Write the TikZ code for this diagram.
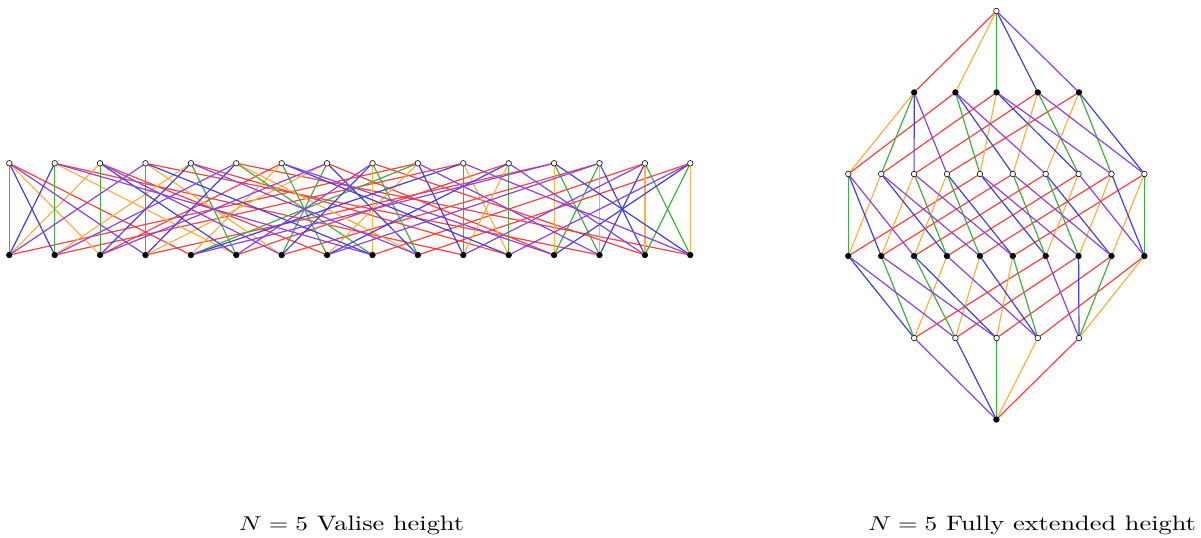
\documentclass[tikz,border=0pt]{standalone}
\usepackage{graphicx}
\pgfdeclarelayer{bg}
\pgfsetlayers{bg,main}
\definecolor{ered}{RGB}{255,64,64}
\definecolor{eorange}{RGB}{255,176,64}
\definecolor{egreen}{RGB}{64,176,64}
\definecolor{eblue}{RGB}{64,64,224}
\definecolor{epurple}{RGB}{144,64,224}
\tikzset{
  wnode/.style={circle,draw=black,fill=white,inner sep=0pt,minimum size=2.8pt,line width=0.3pt},
  bnode/.style={circle,draw=black,fill=black,inner sep=0pt,minimum size=2.8pt,line width=0.3pt},
  cR/.style={draw=ered,line width=0.6pt},
  cO/.style={draw=eorange,line width=0.6pt},
  cG/.style={draw=egreen,line width=0.6pt},
  cB/.style={draw=eblue,line width=0.6pt},
  cP/.style={draw=epurple,line width=0.6pt},
  caption/.style={anchor=base,inner sep=0pt,font=\fontsize{10.45}{12}\selectfont}
}
\newcommand\adkedges[1]{%
  \foreach \a/\b in {e/r,ro/o,rg/g,rb/b,rp/p,og/rog,ob/rob,op/rop,gb/rgb,gp/rgp,bp/rbp,rogb/ogb,rogp/ogp,robp/obp,rgbp/gbp,ogbp/rogbp}
    \draw[cR] (#1\a) -- (#1\b);
  \foreach \a/\b in {e/o,ro/r,rg/rog,rb/rob,rp/rop,og/g,ob/b,op/p,gb/ogb,gp/ogp,bp/obp,rogb/rgb,rogp/rgp,robp/rbp,rgbp/rogbp,ogbp/gbp}
    \draw[cO] (#1\a) -- (#1\b);
  \foreach \a/\b in {e/g,ro/rog,rg/r,rb/rgb,rp/rgp,og/o,ob/ogb,op/ogp,gb/b,gp/p,bp/gbp,rogb/rob,rogp/rop,robp/rogbp,rgbp/rbp,ogbp/obp}
    \draw[cG] (#1\a) -- (#1\b);
  \foreach \a/\b in {e/b,ro/rob,rg/rgb,rb/r,rp/rbp,og/ogb,ob/o,op/obp,gb/g,gp/gbp,bp/p,rogb/rog,rogp/rogbp,robp/rop,rgbp/rgp,ogbp/ogp}
    \draw[cB] (#1\a) -- (#1\b);
  \foreach \a/\b in {e/p,ro/rop,rg/rgp,rb/rbp,rp/r,og/ogp,ob/obp,op/o,gb/gbp,gp/g,bp/b,rogb/rogbp,rogp/rog,robp/rob,rgbp/rgb,ogbp/ogb}
    \draw[cP] (#1\a) -- (#1\b);
}
\begin{document}
\begin{tikzpicture}[x=0.5pt,y=-0.5pt]
\useasboundingbox (0,0) rectangle (1201,537);
% ---------- valise (left) ----------
\foreach \n [count=\i] in {e,gb,og,gp,ob,bp,ro,op,ogbp,rg,rb,rogb,rp,rogp,rgbp,robp}
  \node[wnode] (L\n) at ({9.3+45.4*(\i-1)},163.3) {};
\foreach \n [count=\i] in {g,b,o,p,r,ogb,ogp,rog,gbp,obp,rgb,rob,rop,rgp,rogbp,rbp}
  \node[bnode] (L\n) at ({9.3+45.4*(\i-1)},255) {};
% ---------- fully extended (right) ----------
\node[wnode] (Re) at (996.4,11) {};
\foreach \n [count=\i] in {r,o,g,b,p}
  \node[bnode] (R\n) at ({914.2+41.2*(\i-1)},92.4) {};
\foreach \n [count=\i] in {ro,rg,rb,rp,og,ob,op,gb,gp,bp}
  \node[wnode] (R\n) at ({848.3+32.9*(\i-1)},174) {};
\foreach \n [count=\i] in {rog,rob,rop,rgb,rgp,rbp,ogb,ogp,obp,gbp}
  \node[bnode] (R\n) at ({848.3+32.9*(\i-1)},256) {};
\foreach \n [count=\i] in {rogb,rogp,robp,rgbp,ogbp}
  \node[wnode] (R\n) at ({914.2+41.2*(\i-1)},338) {};
\node[bnode] (Rrogbp) at (996.4,419.5) {};
\begin{pgfonlayer}{bg}
  \adkedges{L}
  \adkedges{R}
\end{pgfonlayer}
% ---------- captions ----------
\node[caption] (capL) at (351.5,530) {\scalebox{1.26}[1]{$N=5$ Valise height}};
\node[caption] (capR) at (1032,530) {\scalebox{1.26}[1]{$N=5$ Fully extended height}};
\end{tikzpicture}
\end{document}
